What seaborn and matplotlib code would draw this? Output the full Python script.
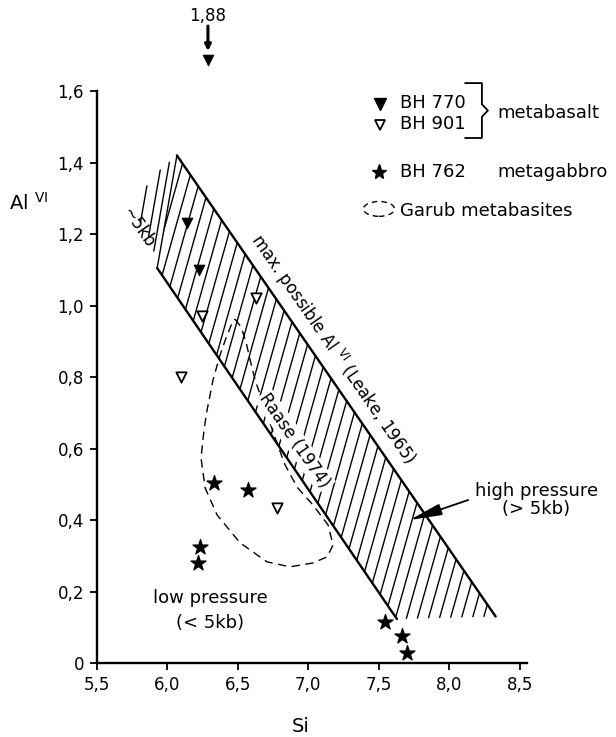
import numpy as np
import matplotlib
matplotlib.use("Agg")
import matplotlib.pyplot as plt
import matplotlib.patches as mpatches
import seaborn as sns

# --- values (Si vs Al VI) ---
bh770_si = [6.14, 6.23, 6.29]
bh770_al = [1.23, 1.10, 1.88]
bh901_si = [6.25, 6.63, 6.10, 6.78]
bh901_al = [0.97, 1.02, 0.80, 0.435]
bh762_si = [6.33, 6.575, 6.235, 6.22, 7.545, 7.665, 7.70]
bh762_al = [0.503, 0.484, 0.325, 0.28, 0.115, 0.076, 0.028]

# upper limit (Leake, 1965) and ~5kb line (Raase, 1974)
leake_si = [6.07, 8.33]
leake_al = [1.42, 0.13]
raase_si = [5.93, 7.63]
raase_al = [1.105, 0.123]

# Garub metabasites envelope
garub_si = [6.482, 6.525, 6.560, 6.589, 6.624, 6.674, 6.730, 6.780, 6.837, 6.922,
            7.035, 7.142, 7.177, 7.135, 7.035, 6.872, 6.709, 6.518, 6.355, 6.270,
            6.241, 6.262, 6.284, 6.326, 6.376, 6.418, 6.461, 6.482]
garub_al = [0.962, 0.940, 0.898, 0.848, 0.792, 0.736, 0.671, 0.615, 0.554, 0.492,
            0.442, 0.386, 0.330, 0.297, 0.280, 0.269, 0.283, 0.336, 0.414, 0.490,
            0.573, 0.652, 0.708, 0.792, 0.862, 0.909, 0.951, 0.962]

x_ticks = [5.5, 6.0, 6.5, 7.0, 7.5, 8.0, 8.5]
y_ticks = [0, 0.2, 0.4, 0.6, 0.8, 1.0, 1.2, 1.4, 1.6]

# --- style ---
sns.set_style("ticks")
plt.rcParams['font.family'] = ['DejaVu Sans']
plt.rcParams['mathtext.fontset'] = 'dejavusans'
for k in ("text.color", "axes.labelcolor", "xtick.color", "ytick.color", "axes.edgecolor"):
    plt.rcParams[k] = "black"

fig = plt.figure(figsize=(6.16, 7.37), dpi=100)
ax = fig.add_axes([0.1567, 0.1004, 0.699, 0.776])
ax.set_xlim(5.5, 8.553)
ax.set_ylim(0, 1.6)

# hatched band between the two lines
band = mpatches.Polygon([(raase_si[0], raase_al[0]), (leake_si[0], leake_al[0]),
                         (leake_si[1], leake_al[1]), (raase_si[1], raase_al[1])],
                        closed=True, fill=False, lw=0)
ax.add_patch(band)

hatch_slope = 1.40
yy = np.array([0, 1.6])
for c in np.arange(4.80, 8.6, 0.078):
    ln, = ax.plot(c + yy / hatch_slope, yy, color="black", lw=1.0, zorder=2)
    ln.set_clip_path(band)

# closing edge at the upper-left end, and the fading strokes beyond it
ex = np.array([leake_si[0], raase_si[0]])
ey = np.array([leake_al[0], raase_al[0]])
ax.plot(ex, ey, color="black", lw=1.0, zorder=2)
for dx, t0, t1 in [(-0.045, 0.06, 0.85), (-0.10, 0.13, 0.72), (-0.175, 0.27, 0.60)]:
    tt = np.array([t0, t1])
    ax.plot(ex[0] + (ex[1] - ex[0]) * tt + dx, ey[0] + (ey[1] - ey[0]) * tt,
            color="black", lw=1.0, zorder=2)

sns.lineplot(x=leake_si, y=leake_al, color="black", lw=1.7, sort=False,
             estimator=None, ax=ax, zorder=3)
sns.lineplot(x=raase_si, y=raase_al, color="black", lw=1.7, sort=False,
             estimator=None, ax=ax, zorder=3)

sns.lineplot(x=garub_si, y=garub_al, color="black", lw=1.0, sort=False,
             estimator=None, ax=ax, zorder=3, linestyle=(0, (6, 4)))

# points; values above the frame are drawn at the top with an arrow
off_y = 1.687
bh770_plot = np.minimum(bh770_al, off_y)
sns.scatterplot(x=bh770_si, y=bh770_plot, marker="v", s=60, color="black",
                edgecolor="black", ax=ax, zorder=5, clip_on=False)
sns.scatterplot(x=bh901_si, y=bh901_al, marker="v", s=55, color="white",
                edgecolor="black", linewidth=1.3, ax=ax, zorder=5)
sns.scatterplot(x=bh762_si, y=bh762_al, marker="*", s=130, color="black",
                edgecolor="black", ax=ax, zorder=5, clip_on=False)

for xs, ys in zip(bh770_si, bh770_al):
    if ys > ax.get_ylim()[1]:
        ax.annotate("", xy=(xs, 1.712), xytext=(xs, 1.782), annotation_clip=False,
                    arrowprops=dict(arrowstyle="-|>", color="black", lw=2.2,
                                    mutation_scale=9, shrinkA=0, shrinkB=0))
        ax.text(xs, 1.81, f"{ys:.2f}".replace(".", ","), ha="center", va="center",
                fontsize=12, clip_on=False)

# labels along the lines
p1 = ax.transData.transform((leake_si[0], leake_al[0]))
p2 = ax.transData.transform((leake_si[1], leake_al[1]))
angle = np.degrees(np.arctan2(p2[1] - p1[1], p2[0] - p1[0]))

ax.text(7.175, 0.878, "max. possible Al $^{\\rm VI}$ (Leake, 1965)", rotation=angle,
        rotation_mode="anchor", ha="center", va="center", fontsize=12, zorder=6)
ax.text(6.905, 0.622, "Raase (1974)", rotation=angle, rotation_mode="anchor",
        ha="center", va="center", fontsize=12, zorder=6,
        bbox=dict(boxstyle="square,pad=0.1", fc="white", ec="none"))
ax.text(5.794, 1.217, "~5kb", rotation=angle, rotation_mode="anchor",
        ha="center", va="center", fontsize=12, zorder=6)

ax.annotate("", xy=(7.72, 0.40), xytext=(8.135, 0.456), annotation_clip=False,
            arrowprops=dict(arrowstyle="-|>,head_length=1.4,head_width=0.25",
                            color="black", lw=1.3, mutation_scale=14,
                            shrinkA=0, shrinkB=0), zorder=6)
ax.text(8.617, 0.456, "high pressure\n(> 5kb)", ha="center", va="center",
        fontsize=13, linespacing=1.05, clip_on=False)
ax.text(6.305, 0.148, "low pressure\n(< 5kb)", ha="center", va="center",
        fontsize=13, linespacing=1.5)

# legend, drawn by hand like the original
tr = ax.transAxes
ax.plot([0.658], [0.977], marker="v", ms=8, color="black", transform=tr, clip_on=False)
ax.plot([0.658], [0.940], marker="v", ms=7.5, mfc="white", mec="black", mew=1.3,
        transform=tr, clip_on=False)
ax.plot([0.656], [0.858], marker="*", ms=11, color="black", transform=tr, clip_on=False)
ax.text(0.705, 0.980, "BH 770", transform=tr, fontsize=13, va="center")
ax.text(0.705, 0.943, "BH 901", transform=tr, fontsize=13, va="center")
ax.plot([0.856, 0.895, 0.895, 0.909, 0.895, 0.895, 0.856],
        [1.014, 1.014, 0.977, 0.966, 0.955, 0.918, 0.918],
        color="black", lw=1.3, transform=tr, clip_on=False)
ax.text(0.932, 0.962, "metabasalt", transform=tr, fontsize=13, va="center")
ax.text(0.705, 0.858, "BH 762", transform=tr, fontsize=13, va="center")
ax.text(0.932, 0.858, "metagabbro", transform=tr, fontsize=13, va="center")
ax.add_patch(mpatches.Ellipse((0.656, 0.794), 0.072, 0.026, transform=tr, fill=False,
                              ec="black", lw=1.0, ls=(0, (4, 3)), clip_on=False))
ax.text(0.705, 0.790, "Garub metabasites", transform=tr, fontsize=13, va="center")

# axes
ax.set_xticks(x_ticks)
ax.set_xticklabels([f"{v:.1f}".replace(".", ",") for v in x_ticks])
ax.set_yticks(y_ticks)
ax.set_yticklabels(["0" if v == 0 else f"{v:.1f}".replace(".", ",") for v in y_ticks])
ax.tick_params(direction="out", length=5, width=1.3, labelsize=12, pad=4)
for s in ("left", "bottom"):
    ax.spines[s].set_linewidth(1.7)
sns.despine(ax=ax)

ax.set_xlabel("Si", fontsize=14)
ax.xaxis.set_label_coords(0.475, -0.094)
ax.set_ylabel("Al $^{\\rm VI}$", fontsize=14, rotation=0, ha="center", va="center")
ax.yaxis.set_label_coords(-0.157, 0.804)

fig.savefig("out.png", dpi=100)
